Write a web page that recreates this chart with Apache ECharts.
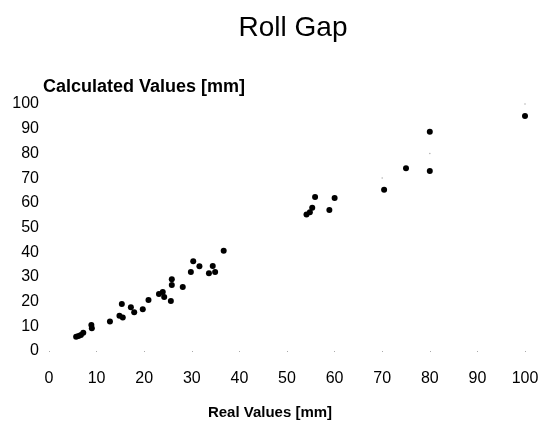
<!DOCTYPE html>
<html>
<head>
<meta charset="utf-8">
<script src="https://cdn.jsdelivr.net/npm/echarts@6/dist/echarts.min.js"></script>
<style>html,body{margin:0;padding:0;background:#fff}#c{width:541px;height:421px}</style>
</head>
<body>
<div id="c"></div>
<script>
const titleText = 'Roll Gap';
const xName = 'Real Values [mm]';
const yName = 'Calculated Values [mm]';
const realValues = [5.7, 6.2, 6.7, 7.2, 8.9, 9.0, 12.8, 14.8, 15.5, 15.3, 17.2, 17.9, 19.7, 20.9, 23.1, 23.9, 24.2, 25.6, 25.8, 25.8, 28.1, 29.8, 30.3, 31.6, 33.6, 34.4, 34.9, 36.7, 54.1, 54.8, 55.3, 55.9, 58.9, 60.0, 70.4, 75.0, 80.0, 80.0, 100.0];
const calcValues = [5.8, 6.1, 6.5, 7.4, 10.5, 9.2, 11.9, 14.3, 13.6, 19.0, 17.7, 15.7, 16.9, 20.6, 23.1, 23.9, 21.9, 20.2, 29.0, 26.7, 25.9, 32.0, 36.3, 34.3, 31.5, 34.4, 32.0, 40.6, 55.3, 56.2, 58.0, 62.3, 57.1, 61.9, 65.3, 74.0, 88.8, 72.9, 95.1];
const idealX = [70, 80, 100];
const idealY = [70, 80, 100];

const font = 'Liberation Sans, Arial, sans-serif';
const chart = echarts.init(document.getElementById('c'));
chart.setOption({
  animation: false,
  backgroundColor: '#fff',
  title: {
    text: titleText, left: 288, top: 9, textAlign: 'center',
    textStyle: { fontFamily: font, fontSize: 28, fontWeight: 'normal', color: '#000' }
  },
  grid: { left: 49, right: 16, top: 104, bottom: 70, outerBoundsMode: 'none', containLabel: false },
  xAxis: {
    type: 'value', min: 0, max: 100, interval: 10,
    name: xName, nameLocation: 'middle', nameGap: 54,
    nameTextStyle: { fontFamily: font, fontSize: 15, fontWeight: 'bold', color: '#000', padding: [0, 34, 0, 0] },
    axisLine: { show: false },
    axisTick: { show: true, length: 1, lineStyle: { color: '#aaa' } },
    splitLine: { show: false },
    axisLabel: { fontFamily: font, fontSize: 16, color: '#000', margin: 20 }
  },
  yAxis: {
    type: 'value', min: 0, max: 100, interval: 10,
    name: yName, nameLocation: 'end', nameGap: 8,
    nameTextStyle: { fontFamily: font, fontSize: 18, fontWeight: 'bold', color: '#000', align: 'center', padding: [0, 0, 0, 190] },
    axisLine: { show: false },
    axisTick: { show: false },
    splitLine: { show: false },
    axisLabel: { fontFamily: font, fontSize: 16, color: '#000', margin: 10 }
  },
  series: [
    {
      type: 'scatter', symbolSize: 1.5, itemStyle: { color: '#999' },
      data: idealX.map((x, i) => [x, idealY[i]])
    },
    {
      type: 'scatter', symbolSize: 6, itemStyle: { color: '#000', opacity: 1 },
      data: realValues.map((x, i) => [x, calcValues[i]])
    }
  ]
});
</script>
</body>
</html>
